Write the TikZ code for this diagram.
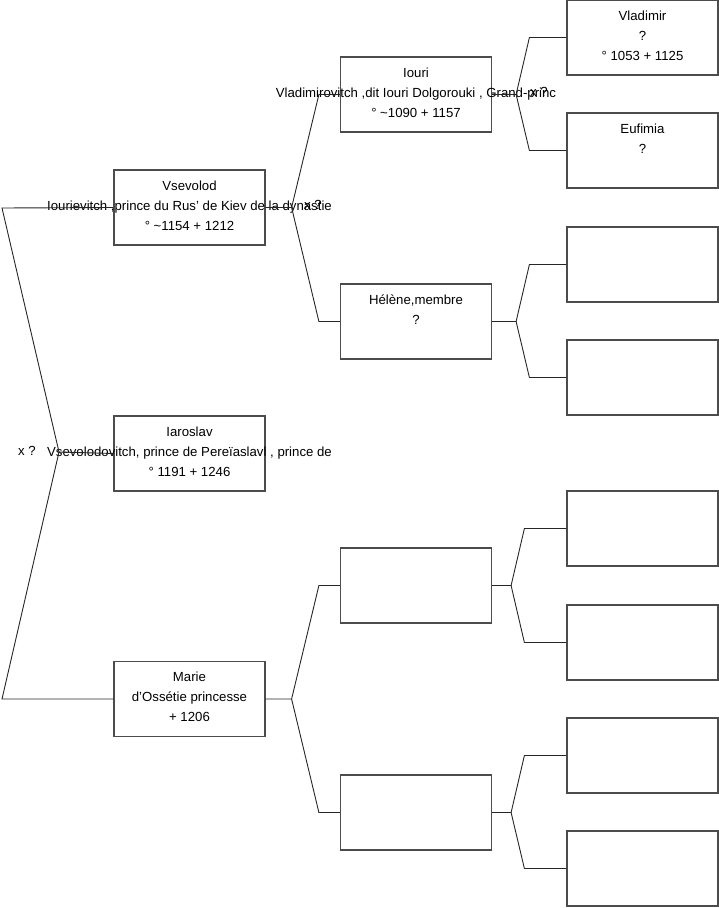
\documentclass[tikz,border=0pt]{standalone}
\usepackage{fontspec}
\setmainfont{Liberation Sans}
\usetikzlibrary{positioning}

\tikzset{
  box/.style={draw=black!70, line width=1.2pt, minimum width=151pt, minimum height=75pt, inner sep=0pt},
  txt/.style={align=center, inner sep=0pt, font=\fontsize{13.2}{20}\selectfont},
  link/.style={draw=black!85, line width=0.9pt},
  mark label/.style={inner sep=0pt, font=\fontsize{13.2}{15}\selectfont}
}

\begin{document}
\begin{tikzpicture}[x=1pt, y=-1pt]
  \useasboundingbox (0,0) rectangle (719,908);

  % generation 1
  \node[box] (vsevolod) at (189.5,207.5) {};
  \node[txt, below=11pt] at (vsevolod.north)
    {Vsevolod\\Iourievitch ,prince du Rus' de Kiev de la dynastie\\° \textasciitilde1154 + 1212};

  \node[box] (iaroslav) at (189.5,453.5) {};
  \node[txt, below=11pt] at (iaroslav.north)
    {Iaroslav\\Vsevolodovitch, prince de Pereïaslavl , prince de\\° 1191 + 1246};

  \node[box] (marie) at (189.5,699) {};
  \node[txt, below=11pt] at (marie.north)
    {Marie\\d'Ossétie princesse\\+ 1206};

  % generation 2
  \node[box] (iouri) at (416,94.5) {};
  \node[txt, below=11pt] at (iouri.north)
    {Iouri\\Vladimirovitch ,dit Iouri Dolgorouki , Grand-princ\\° \textasciitilde1090 + 1157};

  \node[box] (helene) at (416,321.5) {};
  \node[txt, below=11pt] at (helene.north)
    {Hélène,membre\\?};

  \node[box] (mp) at (416,585.5) {};
  \node[box] (mm) at (416,812.5) {};

  % generation 3
  \node[box] (vladimir) at (642.5,37.5) {};
  \node[txt, below=11pt] at (vladimir.north)
    {Vladimir\\?\\° 1053 + 1125};

  \node[box] (eufimia) at (642.5,150.5) {};
  \node[txt, below=11pt] at (eufimia.north)
    {Eufimia\\?};

  \node[box] (hp) at (642.5,264.5) {};
  \node[box] (hm) at (642.5,377.5) {};
  \node[box] (mpp) at (642.5,528.5) {};
  \node[box] (mpm) at (642.5,642.5) {};
  \node[box] (mmp) at (642.5,755.5) {};
  \node[box] (mmm) at (642.5,868.5) {};

  % fork of Iaroslav
  \coordinate (iF) at (59,452);
  \coordinate (iV) at (2,208);
  \coordinate (iM) at (2,699);
  \draw[link] (iaroslav.west) -- (iF) -- (iV) -- (vsevolod.west);
  \draw[link] (iF) -- (iM) -- (marie.west);
  \node[mark label] at (27,451) {x ?};

  % fork of Vsevolod
  \draw[link] (vsevolod.east) -- ++(26,0) coordinate (vF)
    -- ([xshift=-21pt]iouri.west) -- (iouri.west);
  \draw[link] (vF) -- ([xshift=-21pt]helene.west) -- (helene.west);
  \node[mark label] at (313,205) {x ?};

  % fork of Marie
  \draw[link] (marie.east) -- ++(26,0) coordinate (mF)
    -- ([xshift=-21pt]mp.west) -- (mp.west);
  \draw[link] (mF) -- ([xshift=-21pt]mm.west) -- (mm.west);

  % fork of Iouri
  \draw[link] (iouri.east) -- ++(24,0) coordinate (ioF)
    -- ([xshift=-37pt]vladimir.west) -- (vladimir.west);
  \draw[link] (ioF) -- ([xshift=-37pt]eufimia.west) -- (eufimia.west);
  \node[mark label] at (539,92) {x ?};

  % fork of Helene
  \draw[link] (helene.east) -- ++(24,0) coordinate (hF)
    -- ([xshift=-37pt]hp.west) -- (hp.west);
  \draw[link] (hF) -- ([xshift=-37pt]hm.west) -- (hm.west);

  % forks of the empty boxes
  \draw[link] (mp.east) -- ++(19,0) coordinate (mpF)
    -- ([xshift=-42pt]mpp.west) -- (mpp.west);
  \draw[link] (mpF) -- ([xshift=-42pt]mpm.west) -- (mpm.west);

  \draw[link] (mm.east) -- ++(19,0) coordinate (mmF)
    -- ([xshift=-42pt]mmp.west) -- (mmp.west);
  \draw[link] (mmF) -- ([xshift=-42pt]mmm.west) -- (mmm.west);

\end{tikzpicture}
\end{document}
